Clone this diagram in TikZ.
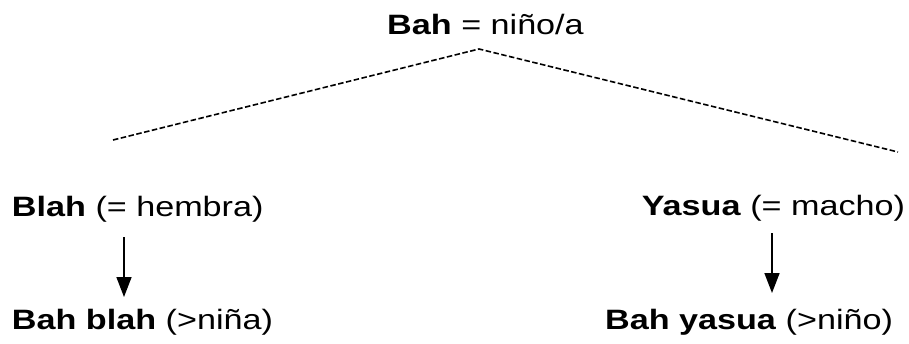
\documentclass[tikz,border=0pt]{standalone}
\usepackage{fontspec}
\setmainfont{Liberation Sans}[FakeStretch=1.22]
\usetikzlibrary{arrows.meta}
\begin{document}
\begin{tikzpicture}[x=1pt,y=-1pt,
  lbl/.style={inner sep=0pt,outer sep=0pt,font=\fontsize{28pt}{33pt}\selectfont},
  dashline/.style={line width=1.6pt,dash pattern=on 5.5pt off 2.5pt},
  arr/.style={line width=1.6pt,-{Triangle[width=15pt,length=20pt]}}]
\useasboundingbox (0,0) rectangle (909,343);
\node[lbl,anchor=base] (top) at (485.5,34.5) {\textbf{Bah} = niño/a};
\coordinate (apex) at (479,49);
\coordinate (lend) at (113,140);
\coordinate (rend) at (898,152);
\draw[dashline] (lend) -- (apex) -- (rend);
\node[lbl,anchor=base west] (blah) at (12,216) {\textbf{Blah} (= hembra)};
\node[lbl,anchor=base west] (bahblah) at (12,329) {\textbf{Bah blah} (>niña)};
\node[lbl,anchor=base east] (yasua) at (905,215) {\textbf{Yasua} (= macho)};
\node[lbl,anchor=base east] (bahyasua) at (893,329) {\textbf{Bah yasua} (>niño)};
\coordinate (la1) at (124,237);
\coordinate (la2) at (124,297);
\coordinate (ra1) at (772,233);
\coordinate (ra2) at (772,293);
\draw[arr] (la1) -- (la2);
\draw[arr] (ra1) -- (ra2);
\end{tikzpicture}
\end{document}
